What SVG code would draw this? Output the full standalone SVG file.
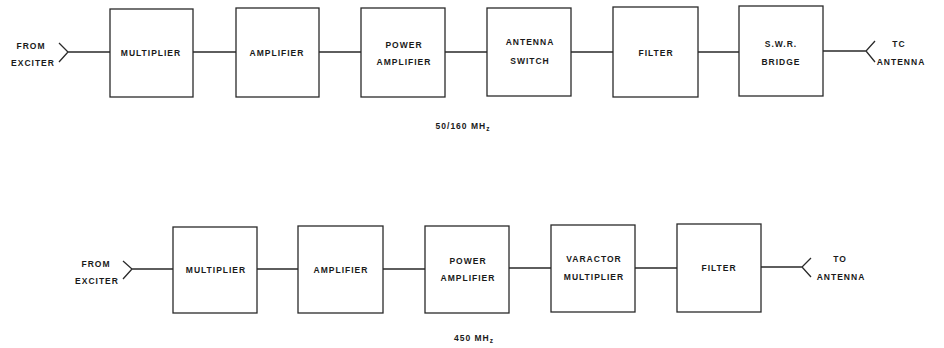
<svg xmlns="http://www.w3.org/2000/svg" width="944" height="348" viewBox="0 0 944 348">
<style>
.box{fill:#fff;stroke:#2a2a2a;stroke-width:1.3}
.w{fill:none;stroke:#2a2a2a;stroke-width:1.3}
text{font-family:"Liberation Sans",Arial,sans-serif;font-weight:bold;font-size:8.5px;fill:#1a1a1a;letter-spacing:1px;text-anchor:middle}
.l{text-anchor:middle}
</style>
<rect width="944" height="348" fill="#fff"/>
<g id="connectors">
<path class="w" d="M59,43 L68,52 L59,62 M68,52 H110"/>
<path class="w" d="M193,52 H236 M319,52 H361 M445,52 H487 M571,52 H613 M698,52 H739"/>
<path class="w" d="M823,51 H866 M875,41 L866,51 L875,62"/>
<path class="w" d="M123,261 L132,269 L123,279 M132,269 H173"/>
<path class="w" d="M257,269 H298 M383,269 H425 M509,268 H551 M635,268 H677"/>
<path class="w" d="M761,267 H802 M811,258 L802,267 L811,277"/>
</g>
<g id="from1"><text x="31" y="49">FROM</text><text x="33" y="66">EXCITER</text></g>
<g id="t1"><rect class="box" x="110" y="9" width="83" height="88"/><text x="151" y="56">MULTIPLIER</text></g>
<g id="t2"><rect class="box" x="236" y="8" width="83" height="89"/><text x="277" y="56">AMPLIFIER</text></g>
<g id="t3"><rect class="box" x="361" y="8" width="84" height="89"/><text x="404" y="48">POWER</text><text x="404" y="65">AMPLIFIER</text></g>
<g id="t4"><rect class="box" x="487" y="8" width="84" height="88"/><text x="530" y="45">ANTENNA</text><text x="530" y="64">SWITCH</text></g>
<g id="t5"><rect class="box" x="613" y="7" width="85" height="90"/><text x="656" y="56">FILTER</text></g>
<g id="t6"><rect class="box" x="739" y="6" width="84" height="90"/><text x="781" y="47">S.W.R.</text><text x="781" y="65">BRIDGE</text></g>
<g id="to1"><text x="899" y="47">TC</text><text x="901" y="65">ANTENNA</text></g>
<g id="cap1"><text x="463" y="129">50/160 MH<tspan font-size="6.5" dy="2">z</tspan></text></g>
<g id="from2"><text x="96" y="267">FROM</text><text x="97" y="284">EXCITER</text></g>
<g id="b1"><rect class="box" x="173" y="227" width="84" height="86"/><text x="216" y="273">MULTIPLIER</text></g>
<g id="b2"><rect class="box" x="298" y="226" width="85" height="87"/><text x="341" y="273">AMPLIFIER</text></g>
<g id="b3"><rect class="box" x="425" y="226" width="84" height="87"/><text x="468" y="264">POWER</text><text x="468" y="281">AMPLIFIER</text></g>
<g id="b4"><rect class="box" x="551" y="225" width="84" height="87"/><text x="594" y="262">VARACTOR</text><text x="594" y="280">MULTIPLIER</text></g>
<g id="b5"><rect class="box" x="677" y="224" width="84" height="88"/><text x="719" y="271">FILTER</text></g>
<g id="to2"><text x="840" y="262">TO</text><text x="841" y="280">ANTENNA</text></g>
<g id="cap2"><text x="474" y="341">450 MH<tspan font-size="6.5" dy="2">z</tspan></text></g>
</svg>
